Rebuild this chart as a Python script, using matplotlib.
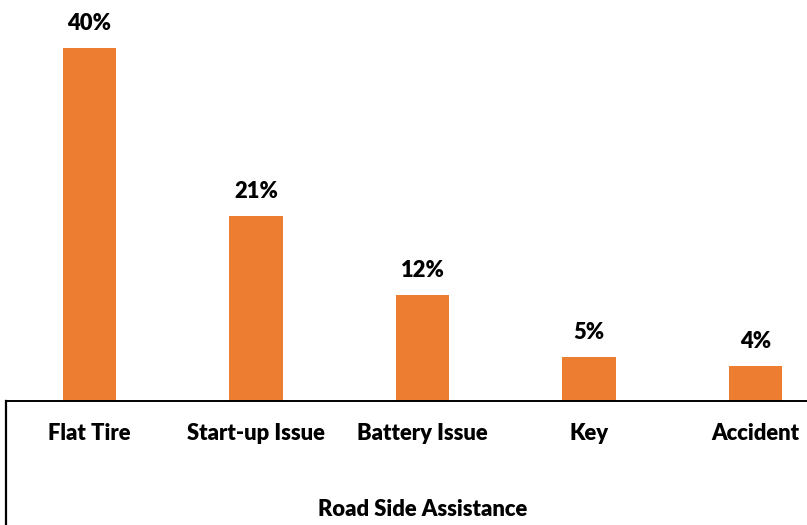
import matplotlib
matplotlib.use("Agg")
from matplotlib import pyplot as plt
from matplotlib.lines import Line2D

# Road side assistance requests by reason (share of calls)
categories = ["Flat Tire", "Start-up Issue", "Battery Issue", "Key", "Accident"]
shares = [40, 21, 12, 5, 4]
axis_title = "Road Side Assistance"

BAR_COLOR = "#ED7D31"
FONT = dict(family="Lato", weight="heavy", size=15.8)

W, H, DPI = 807, 525, 100
fig = plt.figure(figsize=(W / DPI, H / DPI), dpi=DPI)

# the category area runs a little past the right edge of the canvas
left_px, right_px, base_px = 6, 839, 401
ax = fig.add_axes([left_px / W, (H - base_px) / H,
                   (right_px - left_px) / W, base_px / H])
ax.set_xlim(-0.5, len(categories) - 0.5)
ax.set_ylim(0, base_px / 8.825)

x = range(len(categories))
ax.bar(x, shares, width=0.32, color=BAR_COLOR, zorder=2)

for xi, v in zip(x, shares):
    ax.annotate(f"{v}%", (xi, v), xytext=(0, 18), textcoords="offset pixels",
                ha="center", va="baseline", **FONT)
    ax.annotate(categories[xi], (xi, 0), xytext=(0, -39),
                textcoords="offset pixels", ha="center", va="baseline",
                annotation_clip=False, **FONT)

ax.annotate(axis_title, (0.5, 0), xycoords="axes fraction",
            xytext=(0, -115), textcoords="offset pixels",
            ha="center", va="baseline", annotation_clip=False, **FONT)

ax.set_xticks([])
ax.set_yticks([])
for side in ("top", "right", "left"):
    ax.spines[side].set_visible(False)
ax.spines["bottom"].set_linewidth(1.4)
ax.spines["bottom"].set_color("black")

# left edge of the grouped category axis
fig.add_artist(Line2D([left_px / W, left_px / W], [0, (H - base_px) / H],
                      color="black", linewidth=1.6))

fig.savefig("out.png", dpi=DPI)
